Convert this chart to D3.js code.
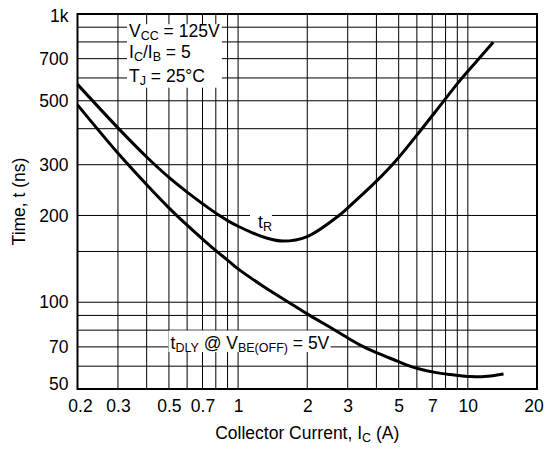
<!DOCTYPE html>
<html>
<head>
<meta charset="utf-8">
<script src="https://cdn.jsdelivr.net/npm/d3@7"></script>
<style>
  body { margin: 0; background: #fff; }
  svg { display: block; }
  text { font-family: "Liberation Sans", Arial, Helvetica, sans-serif; fill: #000; }
</style>
</head>
<body>
<svg id="chart" width="547" height="449"></svg>
<script>
// Rise time t_R versus collector current
const riseCurrent = [0.2, 0.305, 0.4, 0.5, 0.6, 0.71, 0.82, 0.92, 1.0, 1.13, 1.33, 1.57, 2.0, 2.75, 3.07, 4.0, 4.85, 6.25, 7.56, 9.06, 10.85, 12.9];
const riseTime    = [570, 397, 319, 271, 241, 218, 201, 190, 183.5, 175.5, 167, 163, 169, 200, 216, 263, 309, 396, 480, 577, 682, 798];

// Delay time t_DLY versus collector current
const delayCurrent = [0.2, 0.305, 0.405, 0.5, 0.6, 0.71, 0.8, 0.9, 1.0, 1.3, 1.75, 2.0, 2.6, 3.07, 3.4, 4.0, 5.0, 5.4, 6.1, 7.2, 8.4, 9.5, 10.3, 12.2, 14.3];
const delayTime    = [484, 324, 253, 212.5, 185, 164, 151, 140, 130.5, 113, 97.4, 91.1, 80.6, 74.4, 71, 66.8, 62.2, 60.6, 58.8, 57.1, 56.1, 55.5, 55.2, 55.4, 56.4];

// Axis ticks and grid
const xTickValues = [0.2, 0.3, 0.5, 0.7, 1, 2, 3, 5, 7, 10, 20];
const xTickLabels = ["0.2", "0.3", "0.5", "0.7", "1", "2", "3", "5", "7", "10", "20"];
const yTickValues = [50, 70, 100, 200, 300, 500, 700, 1000];
const yTickLabels = ["50", "70", "100", "200", "300", "500", "700", "1k"];
const xGridValues = [0.3, 0.4, 0.5, 0.6, 0.7, 0.8, 0.9, 1, 2, 3, 4, 5, 6, 7, 8, 9, 10];
const yGridValues = [60, 70, 80, 90, 100, 150, 200, 300, 400, 500, 600, 700, 800, 900];

const FONT = 17.5, SUB = 12.5;

const svg = d3.select("#chart");
svg.append("rect").attr("width", 547).attr("height", 449).attr("fill", "#fff");

const plotLeft = 77.5, plotRight = 537, plotTop = 14, plotBottom = 389;
const x = d3.scaleLog().domain([0.2, 20]).range([plotLeft, plotRight]);
const y = d3.scaleLog().domain([50, 1000]).range([plotBottom, plotTop]);

const gridG = svg.append("g");
const boxG = svg.append("g");
const curveG = svg.append("g");
const frameG = svg.append("g");
const textG = svg.append("g");

// grid
gridG.selectAll("line.v").data(xGridValues).join("line")
  .attr("class", "v")
  .attr("x1", d => x(d)).attr("x2", d => x(d))
  .attr("y1", plotTop).attr("y2", plotBottom)
  .attr("stroke", "#000").attr("stroke-width", 1);
gridG.selectAll("line.h").data(yGridValues).join("line")
  .attr("class", "h")
  .attr("x1", plotLeft).attr("x2", plotRight)
  .attr("y1", d => y(d)).attr("y2", d => y(d))
  .attr("stroke", "#000").attr("stroke-width", 1);

// curves
const line = d3.line()
  .x(d => x(d[0]))
  .y(d => y(d[1]))
  .curve(d3.curveCatmullRom.alpha(0.5));

const riseData = riseCurrent.map((c, i) => [c, riseTime[i]]);
const delayData = delayCurrent.map((c, i) => [c, delayTime[i]]);

[riseData, delayData].forEach(data => {
  curveG.append("path")
    .attr("d", line(data))
    .attr("fill", "none")
    .attr("stroke", "#000")
    .attr("stroke-width", 3);
});

// frame
frameG.append("rect")
  .attr("x", plotLeft).attr("y", plotTop)
  .attr("width", plotRight - plotLeft).attr("height", plotBottom - plotTop)
  .attr("fill", "none").attr("stroke", "#000").attr("stroke-width", 2);

// axes (labels only)
const xAxis = d3.axisBottom(x)
  .tickValues(xTickValues)
  .tickFormat((d, i) => xTickLabels[i])
  .tickSize(0).tickPadding(10.3);
const xAxisG = textG.append("g").attr("transform", `translate(0,${plotBottom})`).call(xAxis);
const yAxis = d3.axisLeft(y)
  .tickValues(yTickValues)
  .tickFormat((d, i) => yTickLabels[i])
  .tickSize(0).tickPadding(9);
const yAxisG = textG.append("g").attr("transform", `translate(${plotLeft},0)`).call(yAxis);

[xAxisG, yAxisG].forEach(g => {
  g.select(".domain").remove();
  g.selectAll("text")
    .attr("font-family", "\"Liberation Sans\", Arial, Helvetica, sans-serif")
    .attr("font-size", FONT)
    .attr("fill", "#000");
});
xAxisG.selectAll("text").filter(d => d === 0.2).attr("dx", 2.5);
xAxisG.selectAll("text").filter(d => d === 20).attr("dx", -3.5);
yAxisG.selectAll("text").filter(d => d === 1000).attr("dy", "0.45em");
yAxisG.selectAll("text").filter(d => d === 50).attr("dy", "0.0em");

// axis titles
textG.append("text")
  .attr("x", (plotLeft + plotRight) / 2).attr("y", 439)
  .attr("text-anchor", "middle").attr("font-size", FONT)
  .call(t => {
    t.append("tspan").text("Collector Current, I");
    t.append("tspan").attr("font-size", SUB).attr("dy", 3).text("C");
    t.append("tspan").attr("dy", -3).text(" (A)");
  });

textG.append("text")
  .attr("transform", `translate(25,${(plotTop + plotBottom) / 2}) rotate(-90)`)
  .attr("text-anchor", "middle").attr("font-size", FONT)
  .text("Time, t (ns)");

// annotation helper: text with subscripts
function label(px, py, parts) {
  const t = textG.append("text").attr("x", px).attr("y", py).attr("font-size", FONT);
  let shifted = false;
  parts.forEach(p => {
    const s = t.append("tspan").text(p.t);
    if (p.sub) {
      s.attr("font-size", SUB);
      if (!shifted) { s.attr("dy", 3); shifted = true; }
    } else if (shifted) {
      s.attr("dy", -3); shifted = false;
    }
  });
  return t;
}

// white backing box behind a group of labels
function backing(nodes, pad) {
  const boxes = nodes.map(n => n.node().getBBox());
  const x0 = d3.min(boxes, b => b.x) - pad[0];
  const x1 = d3.max(boxes, b => b.x + b.width) + pad[1];
  const y0 = d3.min(boxes, b => b.y) - pad[2];
  const y1 = d3.max(boxes, b => b.y + b.height) + pad[3];
  boxG.append("rect").attr("x", x0).attr("y", y0)
    .attr("width", x1 - x0).attr("height", y1 - y0).attr("fill", "#fff");
}

const cond = [
  label(129, 36.7, [{t: "V"}, {t: "CC", sub: true}, {t: " = 125V"}]),
  label(129, 58.3, [{t: "I"}, {t: "C", sub: true}, {t: "/I"}, {t: "B", sub: true}, {t: " = 5"}]),
  label(129, 81.7, [{t: "T"}, {t: "J", sub: true}, {t: " = 25°C"}])
];
backing(cond, [2, 2, -3.5, 0]);

const tr = label(258, 228.3, [{t: "t"}, {t: "R", sub: true}]);
backing([tr], [8, 0, 0, -4]);

const td = label(170.5, 349, [{t: "t"}, {t: "DLY", sub: true}, {t: " @ V"}, {t: "BE(OFF)", sub: true}, {t: " = 5V"}]);
backing([td], [2, 1, 2.5, -3]);
</script>
</body>
</html>
